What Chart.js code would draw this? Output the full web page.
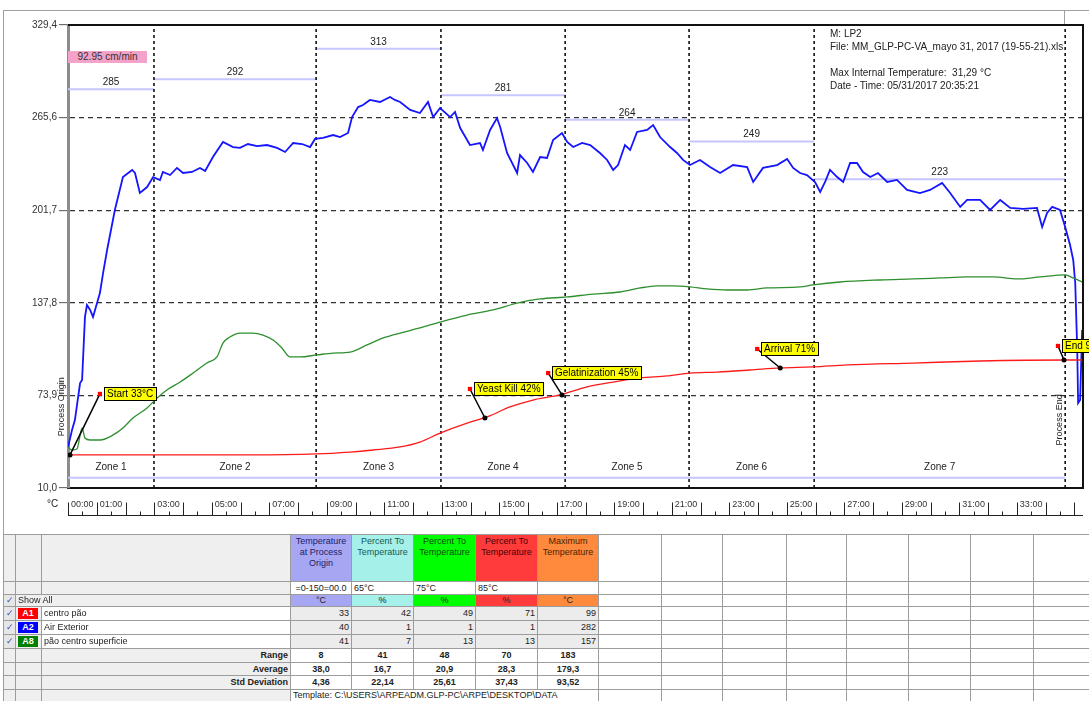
<!DOCTYPE html>
<html lang="en">
<head>
<meta charset="UTF-8">
<title>Process Temperature Profile</title>
<style>
    body {
        margin: 0;
        background: #fff;
        font-family: Arial, "Liberation Sans", sans-serif;
    }
    #wrap {
        position: relative;
        width: 1089px;
        height: 701px;
        overflow: hidden;
    }
    #chartBox {
        position: absolute;
        left: 0;
        top: 0;
    }
    .frameTop { position: absolute; left: 3px; top: 10px; width: 1086px; border-top: 1px solid #a0a0a0; }
    .frameLeft { position: absolute; left: 3px; top: 10px; height: 691px; border-left: 1px solid #a0a0a0; }
    .endTop { position: absolute; left: 1064px; top: 10px; height: 15px; border-left: 1px solid #a0a0a0; }
    .speedTag {
        position: absolute; left: 68px; top: 51px; width: 79px; height: 12px;
        background: #f4a2c9; color: #333; font-size: 10px; line-height: 12px; text-align: center;
    }
    .info {
        position: absolute; left: 830px; top: 27px;
        font-size: 10px; line-height: 13px; color: #222; white-space: nowrap;
    }
    .unit { position: absolute; left: 47px; top: 498px; font-size: 10px; color: #222; }
    #stats {
        position: absolute; left: 3px; top: 534px;
        border-collapse: collapse; table-layout: fixed; width: 1090px;
        font-size: 9px; color: #222;
    }
    #stats td {
        border: 1px solid #9c9c9c;
        padding: 0 2px;
        line-height: 11px;
        overflow: hidden;
        white-space: nowrap;
    }
    #stats td.lg { background: #efefef; }
    #stats td.hd { white-space: normal; vertical-align: top; text-align: center; padding-top: 1px; }
    #stats td.chk { background: #e6e6e6; color: #3050c0; text-align: center; padding: 0; }
    #stats td.v { background: #ececec; text-align: right; }
    #stats td.s { text-align: center; font-weight: bold; }
    #stats td.lbl { background: #efefef; text-align: right; font-weight: bold; }
    #stats td.c { text-align: center; }
    .badge { display: inline-block; width: 20px; color: #fff; font-weight: bold; text-align: center; line-height: 11px; }
</style>
</head>
<body>
<div id="wrap">
    <div class="frameTop"></div>
    <div class="frameLeft"></div>
    <div class="endTop"></div>
    <div id="chartBox"><canvas id="profileChart" width="1089" height="525"></canvas></div>
    <div class="speedTag">92.95 cm/min</div>
    <div class="info">M: LP2<br>File: MM_GLP-PC-VA_mayo 31, 2017 (19-55-21).xls<br>&nbsp;<br>Max Internal Temperature:&nbsp; 31,29 °C<br>Date - Time: 05/31/2017 20:35:21</div>
    <div class="unit">°C</div>

    <table id="stats">
        <colgroup>
            <col style="width:12px"><col style="width:26px"><col style="width:249px">
            <col style="width:61px"><col style="width:62px"><col style="width:62px"><col style="width:62px"><col style="width:61px">
            <col style="width:63px"><col style="width:61px"><col style="width:64px"><col style="width:60px">
            <col style="width:62px"><col style="width:62px"><col style="width:63px"><col style="width:60px">
        </colgroup>
        <tr style="height:47px">
            <td class="lg"></td><td class="lg"></td><td class="lg"></td>
            <td class="hd" style="background:#a6a6f2;color:#1c1c66">Temperature at Process Origin</td>
            <td class="hd" style="background:#a6f0ea;color:#135a55">Percent To Temperature</td>
            <td class="hd" style="background:#00ff00;color:#0b4a0b">Percent To Temperature</td>
            <td class="hd" style="background:#ff3b3b;color:#4a0000">Percent To Temperature</td>
            <td class="hd" style="background:#ff8a3d;color:#4a2200">Maximum Temperature</td>
            <td></td><td></td><td></td><td></td><td></td><td></td><td></td><td></td>
        </tr>
        <tr style="height:13px">
            <td class="lg"></td><td class="lg"></td><td class="lg"></td>
            <td class="c">=0-150=00.0</td><td>65°C</td><td>75°C</td><td>85°C</td><td></td>
            <td></td><td></td><td></td><td></td><td></td><td></td><td></td><td></td>
        </tr>
        <tr style="height:12px">
            <td class="chk">✓</td><td class="lg" colspan="2">Show All</td>
            <td class="c" style="background:#a6a6f2">°C</td>
            <td class="c" style="background:#a6f0ea">%</td>
            <td class="c" style="background:#00ff00">%</td>
            <td class="c" style="background:#ff3b3b">%</td>
            <td class="c" style="background:#ff8a3d">°C</td>
            <td></td><td></td><td></td><td></td><td></td><td></td><td></td><td></td>
        </tr>
        <tr style="height:14px">
            <td class="chk">✓</td><td class="lg"><span class="badge" style="background:#ff0000">A1</span></td><td>centro pão</td>
            <td class="v">33</td><td class="v">42</td><td class="v">49</td><td class="v">71</td><td class="v">99</td>
            <td></td><td></td><td></td><td></td><td></td><td></td><td></td><td></td>
        </tr>
        <tr style="height:14px">
            <td class="chk">✓</td><td class="lg"><span class="badge" style="background:#0000ff">A2</span></td><td>Air Exterior</td>
            <td class="v">40</td><td class="v">1</td><td class="v">1</td><td class="v">1</td><td class="v">282</td>
            <td></td><td></td><td></td><td></td><td></td><td></td><td></td><td></td>
        </tr>
        <tr style="height:14px">
            <td class="chk">✓</td><td class="lg"><span class="badge" style="background:#008000">A8</span></td><td>pão centro superficie</td>
            <td class="v">41</td><td class="v">7</td><td class="v">13</td><td class="v">13</td><td class="v">157</td>
            <td></td><td></td><td></td><td></td><td></td><td></td><td></td><td></td>
        </tr>
        <tr style="height:14px">
            <td class="lg"></td><td class="lg"></td><td class="lbl">Range</td>
            <td class="s">8</td><td class="s">41</td><td class="s">48</td><td class="s">70</td><td class="s">183</td>
            <td></td><td></td><td></td><td></td><td></td><td></td><td></td><td></td>
        </tr>
        <tr style="height:13px">
            <td class="lg"></td><td class="lg"></td><td class="lbl">Average</td>
            <td class="s">38,0</td><td class="s">16,7</td><td class="s">20,9</td><td class="s">28,3</td><td class="s">179,3</td>
            <td></td><td></td><td></td><td></td><td></td><td></td><td></td><td></td>
        </tr>
        <tr style="height:14px">
            <td class="lg"></td><td class="lg"></td><td class="lbl">Std Deviation</td>
            <td class="s">4,36</td><td class="s">22,14</td><td class="s">25,61</td><td class="s">37,43</td><td class="s">93,52</td>
            <td></td><td></td><td></td><td></td><td></td><td></td><td></td><td></td>
        </tr>
        <tr style="height:12px">
            <td class="lg"></td><td class="lg"></td><td class="lg"></td>
            <td colspan="5">Template: C:\USERS\ARPEADM.GLP-PC\ARPE\DESKTOP\DATA</td>
            <td></td><td></td><td></td><td></td><td></td><td></td><td></td><td></td>
        </tr>
    </table>
</div>

<script src="https://cdn.jsdelivr.net/npm/chart.js"></script>
<script>
    // axis ticks
    const yTickValues = [10, 73.88, 137.76, 201.64, 265.52, 329.4];
    const yTickLabels = ['10,0', '73,9', '137,8', '201,7', '265,6', '329,4'];
    const xTickValues = [0, 1, 3, 5, 7, 9, 11, 13, 15, 17, 19, 21, 23, 25, 27, 29, 31, 33];
    const xTickLabels = ['00:00', '01:00', '03:00', '05:00', '07:00', '09:00', '11:00', '13:00', '15:00',
        '17:00', '19:00', '21:00', '23:00', '25:00', '27:00', '29:00', '31:00', '33:00'];

    // A2 - Air Exterior (blue), time in minutes
    const timeA2 = [0.00, 0.14, 0.24, 0.42, 0.49, 0.59, 0.66, 0.77, 0.87, 1.01,
        1.11, 1.22, 1.36, 1.63, 1.91, 2.23, 2.33, 2.50, 2.75, 2.96,
        3.20, 3.30, 3.55, 3.79, 4.00, 4.31, 4.59, 4.77, 5.04, 5.39,
        5.74, 5.98, 6.26, 6.57, 6.92, 7.27, 7.55, 7.83, 8.14, 8.42,
        8.59, 8.87, 9.22, 9.46, 9.74, 9.88, 10.09, 10.26, 10.50, 10.85,
        11.20, 11.37, 11.55, 11.90, 12.24, 12.52, 12.70, 12.94, 13.29, 13.46,
        13.64, 13.98, 14.33, 14.43, 14.68, 14.92, 15.03, 15.27, 15.62, 15.72,
        15.97, 16.17, 16.42, 16.66, 16.87, 17.18, 17.36, 17.57, 17.88, 18.16,
        18.50, 18.75, 18.96, 19.13, 19.37, 19.55, 19.79, 20.14, 20.35, 20.59,
        20.94, 21.18, 21.39, 21.63, 21.98, 22.33, 22.68, 23.13, 23.62, 23.83,
        24.17, 24.66, 25.01, 25.22, 25.46, 25.70, 25.98, 26.16, 26.33, 26.50,
        26.75, 26.96, 27.20, 27.44, 27.65, 27.90, 28.17, 28.49, 28.83, 29.18,
        29.63, 29.98, 30.40, 30.68, 31.03, 31.27, 31.72, 32.07, 32.42, 32.77,
        33.22, 33.70, 33.88, 34.05, 34.23, 34.50, 34.68, 34.85, 34.96, 35.03,
        35.10, 35.13, 35.20, 35.27];
    const tempA2 = [38.3, 50.0, 56.9, 82.4, 84.5, 128.0, 136.2, 132.8, 128.0, 137.6,
        144.5, 158.3, 174.2, 201.8, 224.5, 229.4, 227.3, 213.5, 217.6, 224.5,
        222.5, 228.0, 225.9, 230.8, 227.3, 228.0, 230.8, 228.7, 238.3, 248.7,
        245.2, 244.6, 247.3, 245.9, 246.6, 244.6, 241.8, 248.0, 247.3, 245.2,
        250.8, 251.5, 253.5, 252.1, 254.9, 265.9, 272.8, 274.2, 277.7, 276.3,
        279.7, 277.7, 276.3, 270.8, 268.7, 276.3, 265.9, 272.1, 265.9, 269.4,
        258.3, 246.6, 248.0, 243.2, 257.0, 265.2, 259.0, 241.1, 227.3, 239.7,
        234.2, 228.0, 238.3, 237.7, 250.1, 254.9, 248.7, 245.2, 248.0, 246.6,
        241.1, 236.3, 229.4, 232.8, 246.6, 243.2, 255.6, 257.0, 260.4, 252.1,
        245.2, 241.1, 236.3, 232.8, 236.3, 231.4, 227.3, 232.8, 231.4, 221.1,
        230.8, 232.8, 237.0, 230.8, 227.3, 225.9, 221.1, 214.2, 221.1, 229.4,
        224.5, 221.1, 234.2, 234.2, 228.0, 224.5, 227.3, 221.1, 222.5, 215.6,
        213.5, 215.6, 220.4, 213.5, 203.9, 208.7, 208.7, 201.8, 208.7, 203.2,
        202.5, 203.2, 190.1, 199.7, 203.9, 201.8, 190.1, 177.6, 167.3, 151.4,
        105.2, 68.6, 70.7, 119.0];

    // A8 - pão centro superficie (green)
    const timeA8 = [0.00, 0.14, 0.31, 0.49, 0.59, 0.77, 1.11, 1.57, 1.91, 2.26,
        2.75, 3.10, 3.44, 3.90, 4.35, 4.83, 5.18, 5.39, 5.63, 5.98,
        6.43, 6.78, 7.13, 7.44, 7.72, 8.07, 8.66, 9.22, 9.81, 10.40,
        10.96, 11.55, 12.24, 12.94, 13.88, 14.78, 15.62, 16.42, 17.36, 18.26,
        19.20, 19.90, 20.49, 21.04, 21.63, 22.23, 22.92, 23.62, 24.31, 25.46,
        25.91, 26.85, 28.24, 29.39, 30.33, 31.27, 32.17, 33.01, 33.81, 34.68,
        34.96, 35.27];
    const tempA8 = [38.3, 36.2, 36.9, 51.4, 44.5, 43.1, 43.1, 46.6, 51.4, 58.3,
        65.2, 72.1, 77.6, 83.1, 89.3, 96.2, 100.4, 110.0, 114.2, 116.9,
        116.9, 115.5, 112.1, 106.6, 100.4, 100.4, 101.8, 103.1, 103.8, 108.7,
        113.5, 116.9, 120.4, 124.5, 129.3, 132.8, 137.6, 140.4, 141.8, 143.8,
        145.2, 148.0, 149.4, 149.4, 148.7, 147.3, 146.6, 146.6, 148.0, 148.7,
        150.1, 152.1, 153.5, 154.2, 154.9, 155.6, 155.6, 154.2, 155.6, 157.0,
        154.9, 152.1];

    // A1 - centro pão (red)
    const timeA1 = [0.07, 2.85, 6.33, 8.63, 9.81, 10.61, 11.55, 12.24, 12.94, 13.88,
        14.57, 15.37, 16.17, 17.11, 18.05, 18.96, 19.90, 20.83, 21.63, 22.57,
        23.72, 24.77, 25.91, 27.10, 29.39, 31.72, 34.68, 35.27];
    const tempA1 = [32.8, 32.8, 32.8, 33.5, 34.8, 36.2, 38.3, 41.7, 47.9, 54.8,
        59.0, 65.9, 70.7, 74.2, 79.7, 83.1, 85.9, 87.3, 89.3, 90.0,
        91.4, 92.8, 93.5, 94.9, 96.2, 97.6, 98.3, 98.3];

    // oven zones and belt set values
    const zoneNames = ['Zone 1', 'Zone 2', 'Zone 3', 'Zone 4', 'Zone 5', 'Zone 6', 'Zone 7'];
    const zoneStart = [0, 2.99, 8.63, 12.97, 17.29, 21.60, 25.95];
    const zoneEnd = [2.99, 8.63, 12.97, 17.29, 21.60, 25.95, 34.68];
    const zoneSpeed = [285, 292, 313, 281, 264, 249, 223];
    const baseLevel = 17;

    // event callouts
    const markerLabels = ['Start 33°C', 'Yeast Kill 42%', 'Gelatinization 45%', 'Arrival 71%', 'End 99°C'];
    const markerTime = [1.11, 13.98, 16.70, 23.97, 34.43];
    const markerTemp = [74.9, 78.3, 89.3, 105.9, 108.0];
    const pointTime = [0.07, 14.50, 17.18, 24.77, 34.64];
    const pointTemp = [32.8, 58.3, 74.2, 92.8, 98.3];

    const FONT = 'Arial, "Liberation Sans", sans-serif';
    const pairs = (ts, vs) => ts.map((t, i) => ({x: t, y: vs[i]}));

    const zoneLines = [];
    zoneStart.forEach((s, i) => {
        zoneLines.push({x: s, y: zoneSpeed[i]}, {x: zoneEnd[i], y: zoneSpeed[i]}, {x: zoneEnd[i], y: null});
    });
    zoneLines.push({x: 0, y: baseLevel}, {x: zoneEnd[zoneEnd.length - 1], y: baseLevel});

    const boundaryLines = [];
    zoneEnd.forEach(b => boundaryLines.push({x: b, y: 10}, {x: b, y: 329.4}, {x: b, y: null}));

    const connectors = [];
    markerTime.forEach((t, i) => {
        connectors.push({x: t, y: markerTemp[i]}, {x: pointTime[i], y: pointTemp[i]}, {x: pointTime[i], y: null});
    });

    const decor = {
        id: 'decor',
        afterDatasetsDraw(chart) {
            const {ctx, chartArea: a, scales: {x, y}} = chart;
            ctx.save();
            // top and right frame
            ctx.strokeStyle = '#111';
            ctx.lineWidth = 2;
            ctx.beginPath();
            ctx.moveTo(a.left, a.top);
            ctx.lineTo(a.right, a.top);
            ctx.lineTo(a.right, a.bottom);
            ctx.stroke();

            ctx.font = '10px ' + FONT;
            ctx.fillStyle = '#222';
            ctx.textAlign = 'center';
            ctx.textBaseline = 'bottom';
            zoneSpeed.forEach((s, i) => {
                const cx = (x.getPixelForValue(zoneStart[i]) + x.getPixelForValue(zoneEnd[i])) / 2;
                ctx.fillText(String(s), cx, y.getPixelForValue(s) - 2);
            });
            ctx.textBaseline = 'middle';
            zoneNames.forEach((n, i) => {
                const cx = (x.getPixelForValue(zoneStart[i]) + x.getPixelForValue(zoneEnd[i])) / 2;
                ctx.fillText(n, cx, y.getPixelForValue(24.5));
            });

            // rotated process markers
            ctx.font = '9px ' + FONT;
            [[0, 'Process Origin', 66], [zoneEnd[zoneEnd.length - 1], 'Process End', 57]].forEach(([t, txt, v]) => {
                ctx.save();
                ctx.translate(x.getPixelForValue(t) - 6, y.getPixelForValue(v));
                ctx.rotate(-Math.PI / 2);
                ctx.fillText(txt, 0, 0);
                ctx.restore();
            });

            // callout boxes
            ctx.font = '10px ' + FONT;
            ctx.textAlign = 'left';
            markerLabels.forEach((txt, i) => {
                const px = Math.round(x.getPixelForValue(markerTime[i])) + 4;
                const py = Math.round(y.getPixelForValue(markerTemp[i]));
                const w = Math.ceil(ctx.measureText(txt).width) + 6;
                ctx.fillStyle = '#ffff00';
                ctx.fillRect(px, py - 7, w, 14);
                ctx.strokeStyle = '#000';
                ctx.lineWidth = 1;
                ctx.strokeRect(px + 0.5, py - 6.5, w - 1, 13);
                ctx.fillStyle = '#000';
                ctx.fillText(txt, px + 3, py + 0.5);
            });

            // time tick row under the labels
            const rowY = a.bottom + 27.5;
            ctx.strokeStyle = '#222';
            ctx.lineWidth = 1;
            ctx.beginPath();
            ctx.moveTo(a.left, rowY);
            ctx.lineTo(a.right, rowY);
            for (let m = 0; m <= x.max; m += 0.5) {
                const px = Math.round(x.getPixelForValue(m)) + 0.5;
                ctx.moveTo(px, rowY);
                ctx.lineTo(px, rowY - (m % 1 === 0 ? 13 : 4));
            }
            ctx.stroke();
            ctx.restore();
        }
    };

    new Chart(document.getElementById('profileChart'), {
        type: 'line',
        data: {
            datasets: [
                {
                    data: pairs(markerTime, markerTemp), showLine: false,
                    pointStyle: 'rect', pointRadius: 3, pointBackgroundColor: '#ff0000', pointBorderWidth: 0
                },
                {
                    data: pairs(pointTime, pointTemp), showLine: false,
                    pointRadius: 2.5, pointBackgroundColor: '#000', pointBorderWidth: 0
                },
                {data: connectors, borderColor: '#000', borderWidth: 1.5, pointRadius: 0},
                {
                    label: 'centro pão', data: pairs(timeA1, tempA1), borderColor: '#ff1a1a',
                    borderWidth: 1.3, pointRadius: 0, cubicInterpolationMode: 'monotone'
                },
                {
                    label: 'pão centro superficie', data: pairs(timeA8, tempA8), borderColor: '#2e8f2e',
                    borderWidth: 1.3, pointRadius: 0, cubicInterpolationMode: 'monotone'
                },
                {
                    label: 'Air Exterior', data: pairs(timeA2, tempA2), borderColor: '#1414ff',
                    borderWidth: 1.8, pointRadius: 0
                },
                {data: boundaryLines, borderColor: '#111', borderWidth: 1.6, borderDash: [3, 3], pointRadius: 0},
                {data: zoneLines, borderColor: '#c6c6ff', borderWidth: 2, pointRadius: 0}
            ]
        },
        options: {
            responsive: false,
            animation: false,
            layout: {padding: {left: 0, top: 25, right: 6, bottom: 0}},
            plugins: {legend: {display: false}, tooltip: {enabled: false}},
            scales: {
                x: {
                    type: 'linear', min: 0, max: 35.3,
                    afterFit: s => { s.height = 37; },
                    afterBuildTicks: s => { s.ticks = xTickValues.map(v => ({value: v})); },
                    grid: {display: true, drawOnChartArea: false, drawTicks: false},
                    border: {display: true, color: '#111', width: 2},
                    ticks: {
                        align: 'start', labelOffset: 3, padding: 11, maxRotation: 0, autoSkip: false,
                        color: '#333', font: {size: 9, family: FONT},
                        callback: (v, i) => xTickLabels[i]
                    }
                },
                y: {
                    min: 10, max: 329.4,
                    afterFit: s => { s.width = 68; },
                    afterBuildTicks: s => { s.ticks = yTickValues.map(v => ({value: v})); },
                    grid: {
                        color: c => (c.index === 0 || c.index === yTickValues.length - 1) ? 'rgba(0,0,0,0)' : '#333',
                        lineWidth: 1.3, tickLength: 9, tickColor: '#555', tickWidth: 1, tickBorderDash: []
                    },
                    border: {display: true, color: '#8c8c8c', width: 3, dash: [5, 4]},
                    ticks: {
                        padding: 2, color: '#333', font: {size: 10, family: FONT},
                        callback: (v, i) => yTickLabels[i]
                    }
                }
            }
        },
        plugins: [decor]
    });
</script>
</body>
</html>
